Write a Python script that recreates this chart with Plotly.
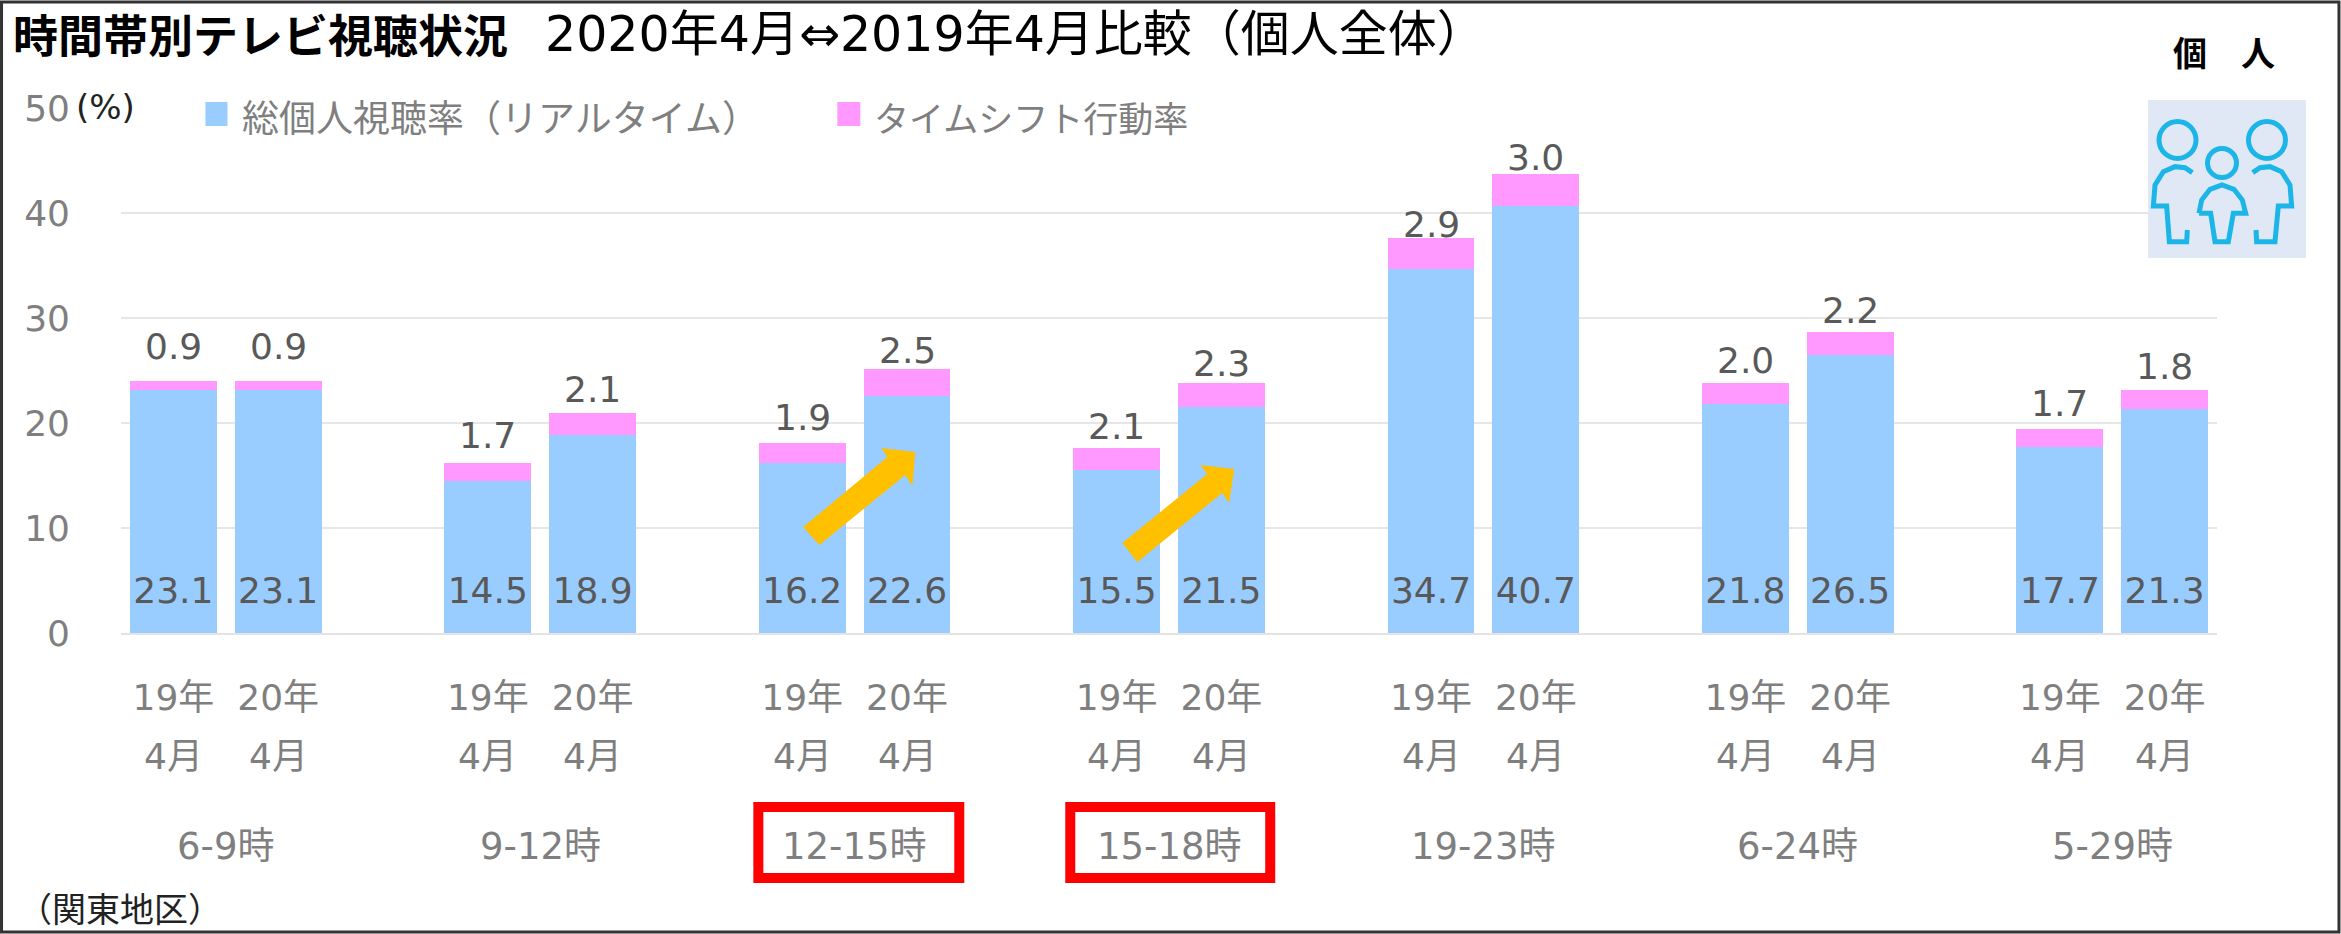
import plotly.graph_objects as go

WIDTH = 2341
HEIGHT = 934
FONT = "Noto Sans CJK JP"
LATIN = "DejaVu Sans, Noto Sans CJK JP"
GRAY = "#7f7f7f"
DARK = "#595959"
BLUE = "#99ccff"
PINK = "#ff99ff"
ICON = "#1cb5e8"

HOURS = ["6-9時", "9-12時", "12-15時", "15-18時", "19-23時", "6-24時", "5-29時"]
YEARS = ["19年", "20年"]
MONTH = "4月"
REALTIME = [23.1, 23.1, 14.5, 18.9, 16.2, 22.6, 15.5, 21.5, 34.7, 40.7, 21.8, 26.5, 17.7, 21.3]
TIMESHIFT = [0.9, 0.9, 1.7, 2.1, 1.9, 2.5, 2.1, 2.3, 2.9, 3.0, 2.0, 2.2, 1.7, 1.8]
Y_TICKS = [0, 10, 20, 30, 40, 50]

# how far each top label floats over its bar, px
LABEL_LIFT = [35, 35, 27, 23, 25, 19, 22, 20, 14, 17, 23, 21, 26, 24]

PLOT_LEFT, PLOT_RIGHT = 120.5, 2217
PLOT_TOP, PLOT_BOTTOM = 108, 633


# paper coordinates are relative to the plot area
def px(x):
    return (x - PLOT_LEFT) / (PLOT_RIGHT - PLOT_LEFT)


def py(y):
    return (PLOT_BOTTOM - y) / (PLOT_BOTTOM - PLOT_TOP)


def poly(points):
    return "M" + " L".join(f"{px(x)},{py(y)}" for x, y in points) + " Z"


def icon_path(points):
    return "M" + " L".join(
        f"{px(1900 + x / 3)},{py(y / 3)}" for x, y in points
    )


# one slot per bar, one empty slot between groups
positions = []
for group in range(len(HOURS)):
    positions += [group * 3, group * 3 + 1]
totals = [a + b for a, b in zip(REALTIME, TIMESHIFT)]
tick_text = YEARS * len(HOURS)

fig = go.Figure()
fig.add_bar(x=positions, y=REALTIME, marker_color=BLUE, marker_line_width=0, width=0.83,
            name="総個人視聴率（リアルタイム）", showlegend=False)
fig.add_bar(x=positions, y=TIMESHIFT, marker_color=PINK, marker_line_width=0, width=0.83,
            name="タイムシフト行動率", showlegend=False)
fig.add_scatter(x=positions, y=[3.7] * len(positions), mode="text",
                text=[f"{v:.1f}" for v in REALTIME], textposition="middle center",
                textfont=dict(size=36, color=DARK, family=LATIN), showlegend=False,
                hoverinfo="skip")

annotations = []


def label(x, y, text, size, color, xref="paper", yref="paper", anchor="center", bold=False, yshift=0, family=LATIN):
    annotations.append(dict(
        x=x, y=y, xref=xref, yref=yref, text=f"<b>{text}</b>" if bold else text,
        showarrow=False, xanchor=anchor, yanchor="middle", yshift=yshift,
        font=dict(size=size, color=color, family=family),
    ))


for pos, total, share, lift in zip(positions, totals, TIMESHIFT, LABEL_LIFT):
    label(pos, total, f"{share:.1f}", 36, DARK, xref="x", yref="y", yshift=lift)
    label(pos, py(756), MONTH, 36, GRAY, xref="x")
for group, hour in enumerate(HOURS):
    label(group * 3 + 0.5, py(846), hour, 37, GRAY, xref="x")

label(px(10), py(33), "時間帯別テレビ視聴状況", 45, "#000000", anchor="left", bold=True, family=FONT)
label(px(543), py(34), "2020年4月⇔2019年4月比較（個人全体）", 49, "#000000", anchor="left")
label(px(73), py(107), "(%)", 34, "#222222", anchor="left")
label(px(240), py(116), "総個人視聴率（リアルタイム）", 37, GRAY, anchor="left", family=FONT)
label(px(872), py(116), "タイムシフト行動率", 35, GRAY, anchor="left", family=FONT)
label(px(2224), py(52), "個　人", 34, "#000000", bold=True, family=FONT)
label(px(15), py(907), "（関東地区）", 34, "#222222", anchor="left", family=FONT)

shapes = []


def paper_rect(x0, y0, x1, y1, fill=None, line=None, line_width=0):
    shapes.append(dict(
        type="rect", xref="paper", yref="paper", x0=px(x0), y0=py(y0), x1=px(x1), y1=py(y1),
        fillcolor=fill or "rgba(0,0,0,0)", line=dict(color=line or "rgba(0,0,0,0)", width=line_width),
        layer="above",
    ))


def circle(cx, cy, r):
    shapes.append(dict(
        type="circle", xref="paper", yref="paper", x0=px(cx - r), y0=py(cy + r), x1=px(cx + r), y1=py(cy - r),
        line=dict(color=ICON, width=5), layer="above",
    ))


def open_path(points):
    shapes.append(dict(type="path", xref="paper", yref="paper", path=icon_path(points),
                       line=dict(color=ICON, width=5), layer="above"))


# legend sits on top of the 50 gridline
paper_rect(120, 96, 1245, 130, fill="white")
paper_rect(205, 102, 227, 126, fill=BLUE)
paper_rect(837, 102, 860, 126, fill=PINK)

# rising arrows
for arrow in (
    [(803, 527), (887, 457), (881, 448), (915, 452), (912, 486), (905, 475), (819, 545)],
    [(1122, 543), (1207, 474), (1200, 465), (1234, 469), (1229, 503), (1222, 493), (1137, 562)],
):
    shapes.append(dict(type="path", xref="paper", yref="paper", path=poly(arrow),
                       fillcolor="#ffc000", line=dict(width=0), layer="above"))

# highlighted hours
paper_rect(758, 807, 959, 878, line="#ff0000", line_width=10)
paper_rect(1070, 807, 1270, 878, line="#ff0000", line_width=10)

# people icon
paper_rect(2148, 100, 2306, 258, fill="#e1e8f5")
circle(2177.5, 140, 18.5)
circle(2267, 140, 18.5)
circle(2222, 163, 14.5)
open_path([(877, 518), (855, 503), (825, 500), (790, 515), (765, 555), (760, 618), (800, 618),
           (808, 725), (860, 725), (862, 690)])
open_path([(1058, 518), (1080, 503), (1110, 500), (1145, 515), (1170, 555), (1175, 618), (1135, 618),
           (1125, 725), (1070, 725), (1068, 690)])
open_path([(897, 640), (905, 600), (930, 568), (966, 555), (1002, 568), (1027, 600), (1037, 640),
           (1000, 640), (985, 725), (945, 725), (932, 640), (897, 640)])

# picture frame
paper_rect(1, 2, 2339, 932, line="#333333", line_width=3)

fig.update_layout(
    width=WIDTH,
    height=HEIGHT,
    barmode="stack",
    paper_bgcolor="white",
    plot_bgcolor="white",
    font=dict(family=LATIN),
    margin=dict(l=PLOT_LEFT, r=WIDTH - PLOT_RIGHT, t=PLOT_TOP, b=HEIGHT - PLOT_BOTTOM, pad=0),
    annotations=annotations,
    shapes=shapes,
)
fig.update_xaxes(
    range=[-0.5, 19.5],
    tickmode="array",
    tickvals=positions,
    ticktext=tick_text,
    tickfont=dict(size=36, color=GRAY, family=LATIN),
    ticklabelstandoff=32,
    ticks="",
    showgrid=False,
    zeroline=False,
    showline=True,
    linecolor="#e3e3e3",
    linewidth=2,
)
fig.update_yaxes(
    range=[0, 50],
    tickmode="array",
    tickvals=Y_TICKS,
    tickfont=dict(size=36, color=GRAY, family=LATIN),
    ticklabelstandoff=50,
    ticks="",
    gridcolor="#e6e6e6",
    gridwidth=2,
    zeroline=False,
    showline=False,
)

fig.write_html("out.html", config={"displayModeBar": False},
               post_script="document.body.style.margin='0';")
